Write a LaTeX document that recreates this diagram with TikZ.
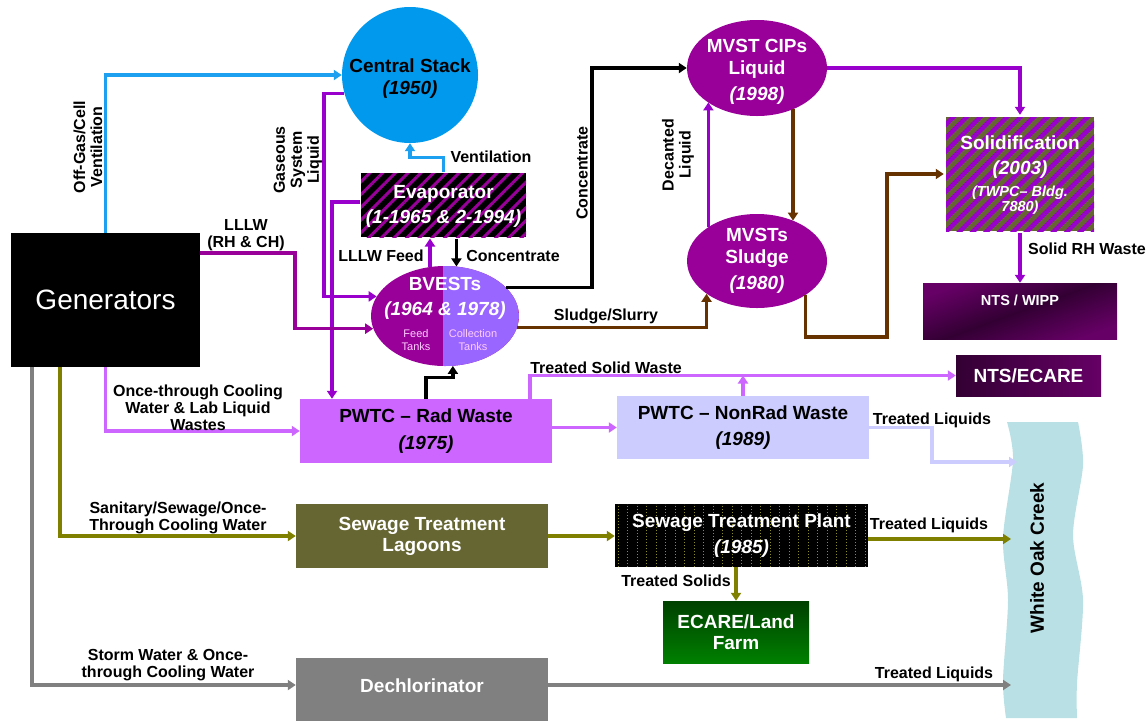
\documentclass[tikz,border=0pt]{standalone}
\usepackage{fontspec}
\setmainfont{Liberation Sans}
\usetikzlibrary{shapes.geometric,arrows.meta,patterns.meta}
\definecolor{stackblue}{RGB}{0,153,238}
\definecolor{lineblue}{RGB}{30,160,240}
\definecolor{pmag}{RGB}{153,0,153}
\definecolor{pvio}{RGB}{153,0,204}
\definecolor{lav}{RGB}{204,102,255}
\definecolor{peri}{RGB}{204,204,255}
\definecolor{brn}{RGB}{102,51,0}
\definecolor{oliv}{RGB}{128,128,0}
\definecolor{dotc}{RGB}{140,140,40}
\definecolor{dolive}{RGB}{102,102,51}
\definecolor{gry}{RGB}{128,128,128}
\definecolor{bvright}{RGB}{153,102,255}
\definecolor{creekc}{RGB}{185,224,228}
\definecolor{pinkt}{RGB}{255,204,255}
\definecolor{darkp}{RGB}{51,0,51}
\definecolor{midp}{RGB}{102,0,102}
\definecolor{farmtop}{RGB}{0,64,0}
\definecolor{farmbot}{RGB}{0,128,0}
\begin{document}
\begin{tikzpicture}[x=1pt,y=-1pt,
  conn/.style={line width=3.2pt,-{Triangle[length=8pt,width=10pt]}},
  lbl/.style={font=\bfseries\fontsize{16}{17}\selectfont, align=center, inner sep=0pt},
  boxtxt/.style={font=\bfseries\fontsize{19}{22}\selectfont, align=center, inner sep=0pt},
  smalltxt/.style={font=\bfseries\itshape\fontsize{14.5}{15}\selectfont, align=center, inner sep=0pt},
  box/.style={rectangle, inner sep=0pt, draw=none},
  ell/.style={ellipse, inner sep=0pt, draw=none}]
\useasboundingbox (0,0) rectangle (1147,721);

% creek
\fill[creekc] plot[smooth] coordinates {(1007,422) (1013,460) (1003,538) (1008,600) (1003,680) (1006,718)}
  -- plot[smooth] coordinates {(1077,718) (1077,683) (1083,600) (1073,535) (1083,465) (1078,422)} -- cycle;
\node[rotate=90, font=\bfseries\fontsize{19}{22}\selectfont, inner sep=0pt] (creekt) at (1037,558) {White Oak Creek};
\coordinate (ck1) at (1017,462);
\coordinate (ck2) at (1011,539);
\coordinate (ck3) at (1011,685);

% nodes
\node[box, fill=black, minimum width=189pt, minimum height=134pt, text=white,
  font=\fontsize{28}{30}\selectfont] (gen) at (105.5,300) {Generators};

\node[ell, fill=stackblue, minimum width=136pt, minimum height=136pt] (stack) at (410,75) {};
\node[boxtxt] (stackt) at (410,79) {Central Stack\\\textit{(1950)}};

\node[box, minimum width=165pt, minimum height=64pt, preaction={fill=black},
  pattern={Lines[angle=45,distance=9pt,line width=3pt]}, pattern color=pmag] (evap) at (443.5,205) {};
\node[boxtxt, text=white] (evapt) at (443.5,206) {Evaporator\\[3pt]\textit{(1-1965 \& 2-1994)}};

\node[ell, fill=pmag, minimum width=148pt, minimum height=100pt,
  path picture={\fill[bvright] ([xshift=-2pt]path picture bounding box.north) rectangle (path picture bounding box.south east);}] (bv) at (445,316) {};
\node[boxtxt, text=white] (bvt) at (445,298) {BVESTs\\[3pt]\textit{(1964 \& 1978)}};
\node[font=\fontsize{11}{12.5}\selectfont, text=pinkt, align=center, inner sep=0pt] (bvf) at (416,340) {Feed\\Tanks};
\node[font=\fontsize{11}{12.5}\selectfont, text=pinkt, align=center, inner sep=0pt] (bvc) at (473,340) {Collection\\Tanks};

\node[ell, fill=pmag, minimum width=140pt, minimum height=96pt] (cips) at (757,68) {};
\node[boxtxt, text=white] (cipst) at (757,72) {MVST CIPs\\Liquid\\[4pt]\textit{(1998)}};

\node[ell, fill=pmag, minimum width=140pt, minimum height=94pt] (sludge) at (757,261) {};
\node[boxtxt, text=white] (sludget) at (757,261) {MVSTs\\Sludge\\[4pt]\textit{(1980)}};

\node[box, minimum width=148pt, minimum height=114pt, preaction={fill=dolive},
  pattern={Lines[angle=45,distance=9.5pt,line width=4.5pt]}, pattern color=pvio] (solid) at (1020,174) {};
\node[boxtxt, text=white] (solidt1) at (1020,157) {Solidification\\[3pt]\textit{(2003)}};
\node[smalltxt, text=white] (solidt2) at (1020,200) {(TWPC– Bldg.\\7880)};

\node[box, minimum width=194pt, minimum height=56pt, top color=midp, bottom color=midp,
  middle color=darkp, shading angle=20] (wipp) at (1020,311) {};
\node[font=\bfseries\fontsize{14.5}{16}\selectfont, text=white, inner sep=0pt] (wippt) at (1020,300) {NTS / WIPP};

\node[box, minimum width=145pt, minimum height=41pt, left color=darkp, right color=midp,
  text=white, boxtxt] (ecare1) at (1028.5,375.5) {NTS/ECARE};

\node[box, fill=lav, minimum width=252pt, minimum height=64pt, boxtxt] (pwtcr) at (426,431)
  {PWTC -- Rad Waste\\[5pt]\textit{(1975)}};
\node[box, fill=peri, minimum width=252pt, minimum height=63pt, boxtxt] (pwtcn) at (743,427.5)
  {PWTC -- NonRad Waste\\[4pt]\textit{(1989)}};

\node[box, fill=dolive, minimum width=252pt, minimum height=64pt, boxtxt, text=white,
  font=\bfseries\fontsize{19}{21}\selectfont] (lag) at (422,536) {Sewage Treatment\\Lagoons};

\node[box, fill=black, minimum width=253pt, minimum height=63pt,
  path picture={\draw[dotc, line width=0.8pt, dash pattern=on 0.8pt off 2.2pt]
    (path picture bounding box.south west) grid[step=9.5] (path picture bounding box.north east);}] (stp) at (741.5,535.5) {};
\node[boxtxt, text=white] (stpt) at (741.5,536) {Sewage Treatment Plant\\[4pt]\textit{(1985)}};

\node[box, minimum width=146pt, minimum height=62pt, top color=farmtop, bottom color=farmbot,
  boxtxt, text=white, font=\bfseries\fontsize{19}{21}\selectfont] (farm) at (736,632) {ECARE/Land\\Farm};

\node[box, fill=gry, minimum width=252pt, minimum height=63pt] (dech) at (422,689.5) {};
\node[boxtxt, text=white] (decht) at (422,686) {Dechlorinator};

% helper bend points
\coordinate (gsb) at (324,250);
\coordinate (lllwc) at (295,290);
\coordinate (concc) at (592,200);
\coordinate (solc) at (887,337);
\coordinate (tlc) at (932,440);

% connectors
\draw[conn, lineblue] (gen.north) |- (stack.west);
\draw[conn, pvio] (stack.196) -| (gsb) |- (bv.164.5);
\draw[conn, lineblue] (evap.north) -- ++(0,-14) -| (stack.south);
\draw[conn, pvio] ([yshift=3pt]evap.west) -| ([xshift=-94pt]pwtcr.north);
\draw[conn, pmag] ([yshift=47pt]gen.east) -| (lllwc) |- (bv.190.3);
\draw[conn, pvio] (bv.107) -- (bv.107 |- evap.south);
\draw[conn, black] (evap.south -| bv.77.4) -- (bv.77.4);
\draw[conn, black] (pwtcr.north) -- ++(0,-21) -| (bv.279.1);
\draw[conn, black] (bv.25.7) -| (concc) |- (cips.west);
\draw[conn, brn] (bv.351.3) -| (sludge.213.3);
\draw[conn, pvio] (sludge.145.6) -- (sludge.145.6 |- cips.215);
\draw[conn, brn] (cips.311.1) -- (cips.311.1 |- sludge.48.2);
\draw[conn, pvio] (cips.east) -| (solid.north);
\draw[conn, brn] (sludge.325.6) |- (solc) |- (solid.west);
\draw[conn, pvio] (solid.south) -- (wipp.north);
\draw[conn, lav] (gen.south) |- (pwtcr.west);
\draw[conn, lav] (pwtcr.east |- pwtcn.west) -- (pwtcn.west);
\draw[conn, lav] ([xshift=104pt]pwtcr.north) |- (ecare1.west);
\draw[conn, lav] (pwtcn.north) -- (pwtcn.north |- ecare1.west);
\draw[conn, peri] (pwtcn.east) -| (tlc) |- (ck1);
\draw[conn, oliv] (lag.east) -- (lag.east -| stp.west);
\draw[conn, oliv] (stp.east |- ck2) -- (ck2);
\draw[conn, oliv] (stp.south -| farm.north) -- (farm.north);
\draw[conn, oliv] ([xshift=-45.5pt]gen.south) |- (lag.west);
\draw[conn, gry] ([xshift=-73.5pt]gen.south) |- ([yshift=4.5pt]dech.west);
\draw[conn, gry] ([yshift=4.5pt]dech.east) -- (ck3);

% labels
\node[lbl, rotate=90] (offl) at (88,147) {Off-Gas/Cell\\Ventilation};
\node[lbl] (lllwl) at (246,235) {LLLW\\(RH \& CH)};
\node[lbl, rotate=90] (gasl) at (298,160) {Gaseous\\System\\Liquid};
\node[lbl] (ventl) at (491,157) {Ventilation};
\node[lbl] (feedl) at (381,256) {LLLW Feed};
\node[lbl] (concl1) at (513,256) {Concentrate};
\node[lbl, rotate=90] (concl2) at (582,173) {Concentrate};
\node[lbl, rotate=90] (decl) at (678,155) {Decanted\\Liquid};
\node[lbl] (slul) at (606,316) {Sludge/Slurry};
\node[lbl] (rhl) at (1087,249) {Solid RH Waste};
\node[lbl] (tswl) at (606,368) {Treated Solid Waste};
\node[lbl] (tll1) at (932,420) {Treated Liquids};
\node[lbl] (oncel) at (198,408) {Once-through Cooling\\Water \& Lab Liquid\\Wastes};
\node[lbl] (sanl) at (178,518) {Sanitary/Sewage/Once-\\Through Cooling Water};
\node[lbl] (tll2) at (929,525) {Treated Liquids};
\node[lbl] (tsl) at (676,581) {Treated Solids};
\node[lbl] (storml) at (168,665) {Storm Water \& Once-\\through Cooling Water};
\node[lbl] (tll3) at (934,674) {Treated Liquids};
\end{tikzpicture}
\end{document}
